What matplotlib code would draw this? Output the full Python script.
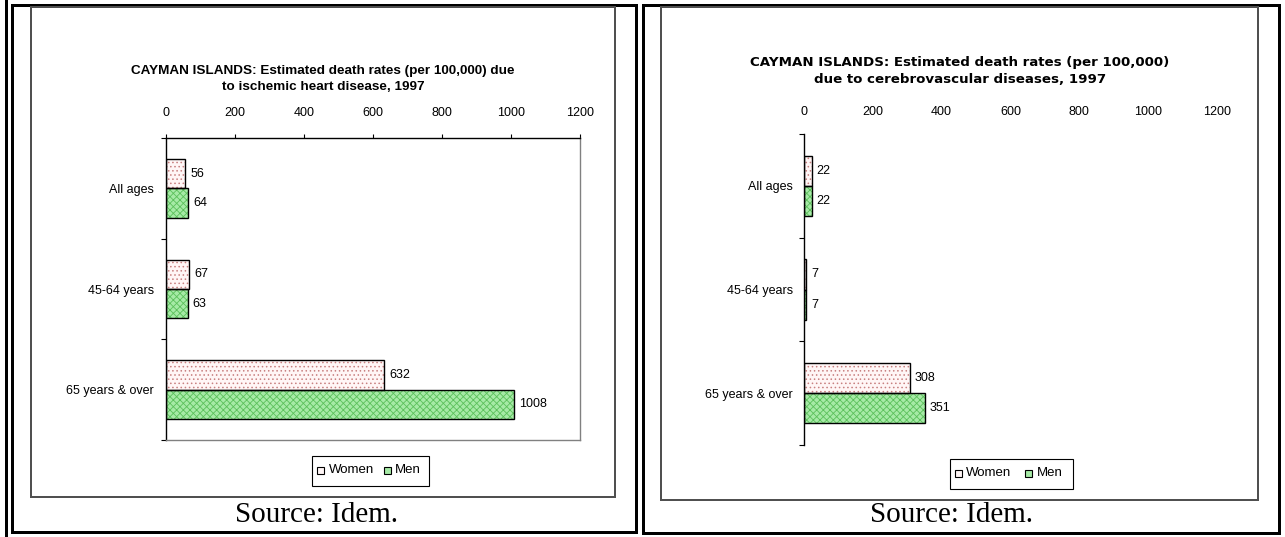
import matplotlib
matplotlib.use("Agg")
import matplotlib.pyplot as plt
from matplotlib.lines import Line2D
from matplotlib.patches import Rectangle

# ---------------- data ----------------
categories = ["All ages", "45-64 years", "65 years & over"]
ihd_women = [56, 67, 632]
ihd_men = [64, 63, 1008]
cvd_women = [22, 7, 308]
cvd_men = [22, 7, 351]
x_ticks = [0, 200, 400, 600, 800, 1000, 1200]
title_left = "CAYMAN ISLANDS: Estimated death rates (per 100,000) due\nto ischemic heart disease, 1997"
title_right = "CAYMAN ISLANDS: Estimated death rates (per 100,000)\ndue to cerebrovascular diseases, 1997"
series_names = ["Women", "Men"]
source_text = "Source: Idem."

W, H = 1285, 537
plt.rcParams['font.family'] = ['Liberation Sans', 'DejaVu Sans']
plt.rcParams['hatch.linewidth'] = 0.6

fig = plt.figure(figsize=(W / 100, H / 100), dpi=100)

def fx(x):
    return x / W

def fy(y):
    return 1 - y / H

def pt(px):
    return px * 72 / 100

def fline(x1, y1, x2, y2, color="black", lw=3):
    fig.add_artist(Line2D([fx(x1), fx(x2)], [fy(y1), fy(y2)], transform=fig.transFigure,
                          color=color, lw=pt(lw), solid_capstyle="projecting"))

def frect(x1, y1, x2, y2, color="black", lw=3):
    fline(x1, y1, x2, y1, color, lw)
    fline(x2, y1, x2, y2, color, lw)
    fline(x2, y2, x1, y2, color, lw)
    fline(x1, y2, x1, y1, color, lw)

# outer table frame
fline(5.5, 0, 5.5, 537, lw=3)
frect(12, 4.5, 636, 532, lw=3)
frect(643, 4.5, 1279, 532.5, lw=3)
# chart boxes
frect(31, 7, 615, 496.5, color="#505050", lw=2)
frect(661, 7, 1258, 500, color="#505050", lw=2)

W_FACE, W_HATCH = "#fff6f6", "#c88080"
M_FACE, M_HATCH = "#a6eaa6", "#5cc05c"
BH = 0.29

def make_chart(l, t, r, b, women, men, boxed, title, tx, ty, label_pad, tfont, tsize):
    ax = fig.add_axes([fx(l), fy(b), (r - l) / W, (b - t) / H])
    ys = list(range(len(categories)))
    yw = [y - BH / 2 for y in ys]
    ym = [y + BH / 2 for y in ys]
    ax.barh(yw, women, height=BH, color=W_FACE, edgecolor=W_HATCH, hatch="....", lw=0, zorder=2)
    ax.barh(yw, women, height=BH, fill=False, edgecolor="black", lw=1, zorder=3)
    ax.barh(ym, men, height=BH, color=M_FACE, edgecolor=M_HATCH, hatch="xxxxx", lw=0, zorder=2)
    ax.barh(ym, men, height=BH, fill=False, edgecolor="black", lw=1, zorder=3)
    for y, v in zip(yw, women):
        ax.annotate(str(v), (v, y), xytext=(5, 0), textcoords="offset pixels",
                    va="center", ha="left", fontsize=9)
    for y, v in zip(ym, men):
        ax.annotate(str(v), (v, y), xytext=(5, 0), textcoords="offset pixels",
                    va="center", ha="left", fontsize=9)
    ax.set_xlim(0, 1200)
    ax.set_ylim(len(categories) - 0.5, -0.5)
    ax.xaxis.tick_top()
    ax.set_xticks(x_ticks)
    ax.set_xticklabels([str(v) for v in x_ticks])
    ax.set_yticks(ys)
    ax.set_yticklabels(categories)
    ax.set_yticks([i - 0.5 for i in range(len(categories) + 1)], minor=True)
    ax.tick_params(axis="y", which="major", length=0, pad=pt(label_pad), labelsize=9)
    ax.tick_params(axis="y", which="minor", length=pt(5), width=0.8, direction="out")
    ax.set_facecolor("none")
    for s in ax.spines.values():
        s.set_linewidth(1)
    ax.spines["left"].set_color("black")
    if boxed:
        ax.tick_params(axis="x", length=pt(4), width=0.8, pad=pt(15), labelsize=9, direction="out")
        ax.spines["top"].set_color("black")
        ax.spines["right"].set_color("#808080")
        ax.spines["bottom"].set_color("#808080")
    else:
        ax.tick_params(axis="x", length=0, pad=pt(16), labelsize=9)
        ax.spines["top"].set_visible(False)
        ax.spines["right"].set_visible(False)
        ax.spines["bottom"].set_visible(False)
    fig.text(fx(tx), fy(ty), title, ha="center", va="center", fontsize=tsize,
             fontweight="bold", linespacing=1.45, family=tfont)
    return ax

make_chart(166, 138, 580, 440, ihd_women, ihd_men, True, title_left, 323, 79, 12,
           ["Liberation Sans", "DejaVu Sans"], 9.7)
make_chart(804, 134, 1217, 445, cvd_women, cvd_men, False, title_right, 960, 71, 11,
           ["DejaVu Sans"], 9.6)

def legend(x1, y1, x2, y2, sq1, t1, sq2, t2, ty):
    fig.add_artist(Rectangle((fx(x1), fy(y2)), (x2 - x1) / W, (y2 - y1) / H,
                             transform=fig.transFigure, fill=False, edgecolor="black", lw=0.8))
    s = 7
    fig.add_artist(Rectangle((fx(sq1), fy(ty + s / 2)), s / W, s / H, transform=fig.transFigure,
                             facecolor=W_FACE, edgecolor="black", lw=0.8))
    fig.add_artist(Rectangle((fx(sq2), fy(ty + s / 2)), s / W, s / H, transform=fig.transFigure,
                             facecolor=M_FACE, edgecolor="black", lw=0.8))
    fig.text(fx(t1), fy(ty), series_names[0], ha="left", va="center", fontsize=9.5)
    fig.text(fx(t2), fy(ty), series_names[1], ha="left", va="center", fontsize=9.5)

legend(312, 456, 429, 486, 317, 329, 384, 395, 470)
legend(950, 459, 1073, 489, 955, 966, 1025, 1037, 473)

fig.text(fx(398), fy(522), source_text, ha="right", va="baseline", fontsize=21,
         family=["Liberation Serif", "DejaVu Serif"])
fig.text(fx(1033), fy(522), source_text, ha="right", va="baseline", fontsize=21,
         family=["Liberation Serif", "DejaVu Serif"])

fig.savefig("out.png", dpi=100, facecolor="white")
